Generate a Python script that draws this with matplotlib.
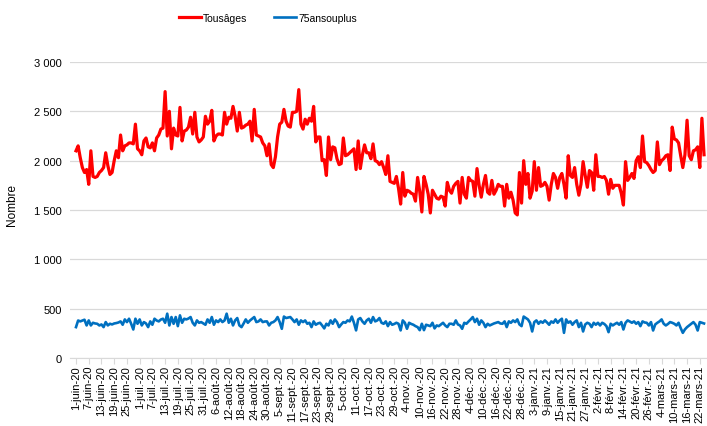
import matplotlib
matplotlib.use("Agg")
import matplotlib.pyplot as plt
import numpy as np

plt.rcParams['font.family'] = ['Liberation Sans', 'DejaVu Sans']

# ---- data (daily values from 1-juin-20) ----
tous_ages = [
    2100, 2150, 2030, 1930, 1880, 1910, 1760, 2100, 1840, 1830,
    1840, 1880, 1900, 1930, 2080, 1950, 1860, 1880, 2000, 2100,
    2030, 2260, 2100, 2150, 2160, 2180, 2180, 2170, 2370, 2120,
    2100, 2060, 2200, 2230, 2140, 2130, 2180, 2100, 2230, 2260,
    2320, 2330, 2700, 2250, 2500, 2120, 2330, 2260, 2250, 2540,
    2200, 2300, 2310, 2340, 2440, 2270, 2490, 2240, 2190, 2210,
    2240, 2450, 2370, 2400, 2510, 2200, 2250, 2270, 2270, 2260,
    2490, 2370, 2440, 2430, 2550, 2450, 2300, 2490, 2330, 2340,
    2360, 2370, 2400, 2200, 2520, 2260, 2250, 2240, 2180, 2150,
    2050, 2170, 1960, 1930, 2040, 2240, 2370, 2390, 2520, 2400,
    2350, 2340, 2490, 2490, 2500, 2720, 2370, 2320, 2420, 2370,
    2430, 2400, 2550, 2190, 2240, 2240, 2000, 2010, 1850, 2240,
    2010, 2140, 2130, 2020, 1960, 1970, 2230, 2050, 2060, 2080,
    2100, 2120, 1910, 2200, 1920, 2060, 2160, 2080, 2080, 2020,
    2170, 2000, 1990, 1960, 1990, 1930, 1860, 2050, 1790, 1780,
    1770, 1840, 1720, 1560, 1880, 1640, 1700, 1690, 1670, 1660,
    1590, 1830, 1690, 1480, 1840, 1760, 1660, 1470, 1700, 1660,
    1620, 1610, 1640, 1630, 1540, 1780, 1700, 1670, 1740, 1770,
    1790, 1570, 1830, 1660, 1620, 1830, 1800, 1790, 1640, 1920,
    1750, 1630, 1760, 1850, 1680, 1660, 1800, 1660, 1700, 1760,
    1740, 1740, 1540, 1760, 1620, 1680, 1600, 1470, 1450, 1880,
    1570, 2000, 1760, 1870, 1620, 1690, 1990, 1700, 1930, 1740,
    1750, 1780, 1740, 1600, 1760, 1870, 1830, 1720, 1830, 1870,
    1760, 1620, 2050, 1850, 1830, 1930, 1760, 1650, 1760, 1990,
    1850, 1730, 1900, 1880, 1700, 2060, 1840, 1840, 1830, 1840,
    1800, 1660, 1810, 1720, 1750, 1750, 1750, 1670, 1550, 1990,
    1800, 1830, 1870, 1820, 2000, 2040, 1930, 2250, 1990, 1980,
    1950, 1910, 1880, 1900, 2190, 1960, 2000, 2020, 2050, 2060,
    1900, 2340, 2220, 2210, 2180, 2050, 1930, 2060, 2410, 2050,
    2010, 2100, 2110, 2140, 1930, 2430, 2060,
]

ans75_plus = [
    313, 380, 371, 380, 388, 330, 381, 330, 357, 350,
    347, 330, 340, 313, 364, 330, 347, 340, 350, 354,
    360, 371, 337, 391, 364, 398, 347, 289, 398, 347,
    391, 330, 364, 350, 313, 371, 337, 398, 380, 371,
    390, 398, 357, 449, 330, 415, 347, 415, 323, 432,
    357, 398, 391, 400, 415, 357, 330, 381, 357, 364,
    350, 337, 391, 357, 415, 337, 381, 364, 391, 364,
    380, 449, 357, 398, 330, 381, 405, 330, 313, 350,
    391, 357, 380, 398, 415, 364, 371, 391, 364, 370,
    371, 330, 357, 364, 381, 415, 364, 296, 420, 405,
    410, 415, 391, 364, 391, 337, 381, 364, 381, 347,
    357, 313, 371, 337, 350, 357, 330, 300, 347, 330,
    381, 347, 391, 364, 313, 340, 364, 357, 381, 371,
    420, 357, 280, 391, 405, 370, 347, 381, 398, 357,
    415, 371, 381, 405, 357, 347, 371, 323, 364, 337,
    345, 357, 347, 280, 381, 357, 296, 357, 345, 337,
    323, 313, 282, 347, 282, 337, 330, 323, 357, 300,
    330, 323, 340, 357, 330, 313, 347, 347, 337, 381,
    340, 330, 296, 357, 347, 370, 391, 415, 364, 398,
    337, 381, 357, 313, 347, 330, 340, 350, 357, 364,
    350, 347, 371, 313, 371, 357, 381, 364, 391, 340,
    323, 420, 405, 391, 357, 269, 364, 381, 347, 371,
    357, 381, 360, 337, 371, 357, 391, 357, 381, 398,
    255, 391, 357, 371, 337, 364, 381, 313, 357, 269,
    340, 357, 347, 313, 357, 337, 357, 330, 357, 345,
    323, 262, 347, 330, 345, 357, 337, 364, 289, 357,
    381, 370, 357, 371, 347, 364, 323, 371, 360, 357,
    330, 364, 279, 340, 357, 371, 391, 347, 330, 345,
    364, 357, 347, 330, 357, 303, 255, 290, 313, 330,
    347, 364, 337, 279, 364, 357, 350,
]

tick_labels = [
    "1-juin-20", "7-juin-20", "13-juin-20", "19-juin-20", "25-juin-20",
    "1-juil.-20", "7-juil.-20", "13-juil.-20", "19-juil.-20", "25-juil.-20",
    "31-juil.-20", "6-août-20", "12-août-20", "18-août-20", "24-août-20",
    "30-août-20", "5-sept.-20", "11-sept.-20", "17-sept.-20", "23-sept.-20",
    "29-sept.-20", "5-oct.-20", "11-oct.-20", "17-oct.-20", "23-oct.-20",
    "29-oct.-20", "4-nov.-20", "10-nov.-20", "16-nov.-20", "22-nov.-20",
    "28-nov.-20", "4-déc.-20", "10-déc.-20", "16-déc.-20", "22-déc.-20",
    "28-déc.-20", "3-janv.-21", "9-janv.-21", "15-janv.-21", "21-janv.-21",
    "27-janv.-21", "2-févr.-21", "8-févr.-21", "14-févr.-21", "20-févr.-21",
    "26-févr.-21", "4-mars-21", "10-mars-21", "16-mars-21", "22-mars-21",
]
tick_step_days = 6
series_names = ["Tousâges", "75ansouplus"]

# ---- figure ----
W, H = 707, 427
fig = plt.figure(figsize=(W / 100, H / 100), dpi=100)
ax = fig.add_axes([70 / W, (H - 359) / H, (707 - 70) / W, (359 - 63) / H])

x = np.arange(len(tous_ages))
ax.plot(x, tous_ages, color="#FF0000", lw=2.3, label=series_names[0],
        solid_joinstyle="round")
ax.plot(np.arange(len(ans75_plus)), ans75_plus, color="#0070C0", lw=1.9,
        label=series_names[1], solid_joinstyle="round")

ax.set_ylim(0, 3000)
ax.set_xlim(-2.83, 297.4)
ax.set_yticks(np.arange(0, 3001, 500))
ax.set_yticklabels([f"{v:,}".replace(",", " ") for v in range(0, 3001, 500)],
                   fontsize=8)
ax.yaxis.grid(True, color="#D9D9D9", lw=0.9)
ax.set_axisbelow(True)
ax.tick_params(axis="y", length=0, pad=6)

ticks = np.arange(len(tick_labels)) * tick_step_days
ax.set_xticks(ticks)
ax.set_xticklabels(tick_labels, rotation=90, fontsize=8)
ax.tick_params(axis="x", length=4, color="#D9D9D9", pad=1)

for s in ["top", "right", "left"]:
    ax.spines[s].set_visible(False)
ax.spines["bottom"].set_color("#D9D9D9")

fig.text(12 / W, 1 - 205 / H, "Nombre", rotation=90, ha="center",
         va="center", fontsize=8.5)

fig.legend(loc="center", bbox_to_anchor=(268 / W, 1 - 19 / H), ncol=2,
           frameon=False, fontsize=7.5, handlelength=2.1, columnspacing=2.6,
           handletextpad=0.2)

fig.savefig("out.png", dpi=100)
